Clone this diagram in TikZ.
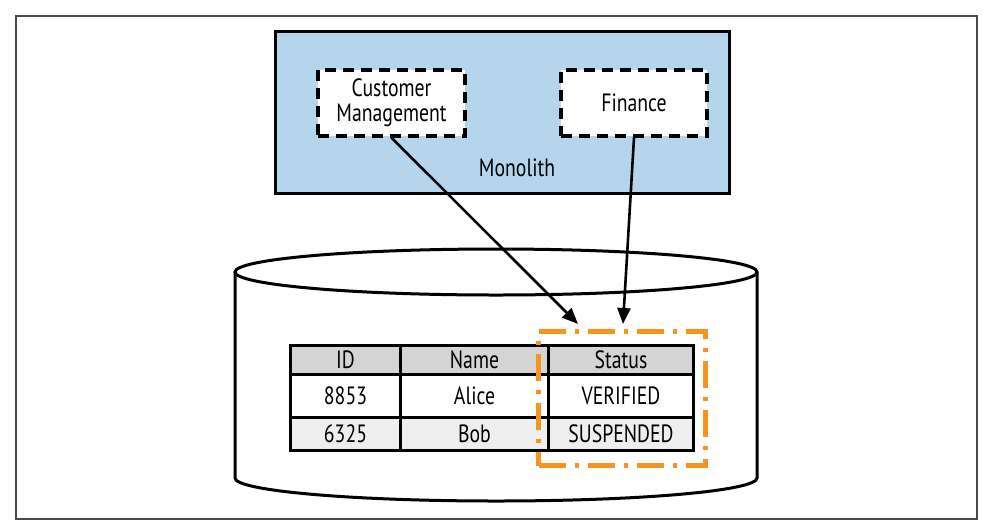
\documentclass[tikz,border=0pt]{standalone}
\usepackage{fontspec}
\setmainfont[FakeStretch=0.79]{PT Sans}
\usetikzlibrary{arrows.meta}
\definecolor{monoblue}{HTML}{B4D5EB}
\definecolor{hdrgray}{HTML}{D4D4D4}
\definecolor{rowgray}{HTML}{EEEEEE}
\definecolor{statusorange}{HTML}{F7941E}
\definecolor{framegray}{HTML}{4A4A4A}
\tikzset{
  txt/.style={font=\fontsize{25}{25}\selectfont},
  compbox/.style={draw=black, line width=3.4pt, dash pattern=on 11pt off 7pt, fill=white, inner sep=0pt, txt, align=center},
  cell/.style={draw=black, line width=3pt, inner sep=0pt, txt, anchor=north west},
  conn/.style={line width=2.6pt, -{Triangle[length=16pt,width=13pt]}},
}
\begin{document}
\begin{tikzpicture}[x=1pt,y=-1pt]
\useasboundingbox (0,0) rectangle (987,531);
% outer frame
\draw[framegray, line width=2pt] (16,16) rectangle (977,519);
% monolith
\node[draw=black, line width=3.4pt, fill=monoblue, minimum width=454pt, minimum height=162pt, anchor=north west, inner sep=0pt] (mono) at (274,30) {};
\node[txt] (monolbl) at (517,168) {Monolith};
\node[compbox, minimum width=147pt, minimum height=66pt] (cm) at (391.5,103) {Customer\\Management};
\node[compbox, minimum width=146pt, minimum height=66pt] (fin) at (634,103) {Finance};
% cylinder
\filldraw[fill=white, draw=black, line width=3pt] (235,272) -- (235,478) arc[start angle=180, end angle=360, x radius=261pt, y radius=23pt] -- (757,272);
\draw[black, line width=3pt, fill=white] (496,272) ellipse[x radius=261pt, y radius=23pt];
% table
\node[cell, fill=hdrgray, minimum width=110pt, minimum height=29pt] (h1) at (289,344) {ID};
\node[cell, fill=hdrgray, minimum width=148pt, minimum height=29pt] (h2) at (399,344) {Name};
\node[cell, fill=hdrgray, minimum width=145pt, minimum height=29pt] (h3) at (547,344) {Status};
\node[cell, fill=white, minimum width=110pt, minimum height=43pt] (a1) at (289,373) {8853};
\node[cell, fill=white, minimum width=148pt, minimum height=43pt] (a2) at (399,373) {Alice};
\node[cell, fill=white, minimum width=145pt, minimum height=43pt] (a3) at (547,373) {VERIFIED};
\node[cell, fill=rowgray, minimum width=110pt, minimum height=33pt] (b1) at (289,416) {6325};
\node[cell, fill=rowgray, minimum width=148pt, minimum height=33pt] (b2) at (399,416) {Bob};
\node[cell, fill=rowgray, minimum width=145pt, minimum height=33pt] (b3) at (547,416) {SUSPENDED};
% status highlight
\node[draw=statusorange, line width=5pt, dash pattern=on 27pt off 9pt on 4pt off 9pt, minimum width=167pt, minimum height=134pt, anchor=north west, inner sep=0pt] (sel) at (536,329) {};
% connectors
\coordinate (cmtip) at (578,324);
\coordinate (fintip) at (623,324);
\draw[conn] (cm.south) -- (cmtip);
\draw[conn] (fin.south) -- (fintip);
\end{tikzpicture}
\end{document}
